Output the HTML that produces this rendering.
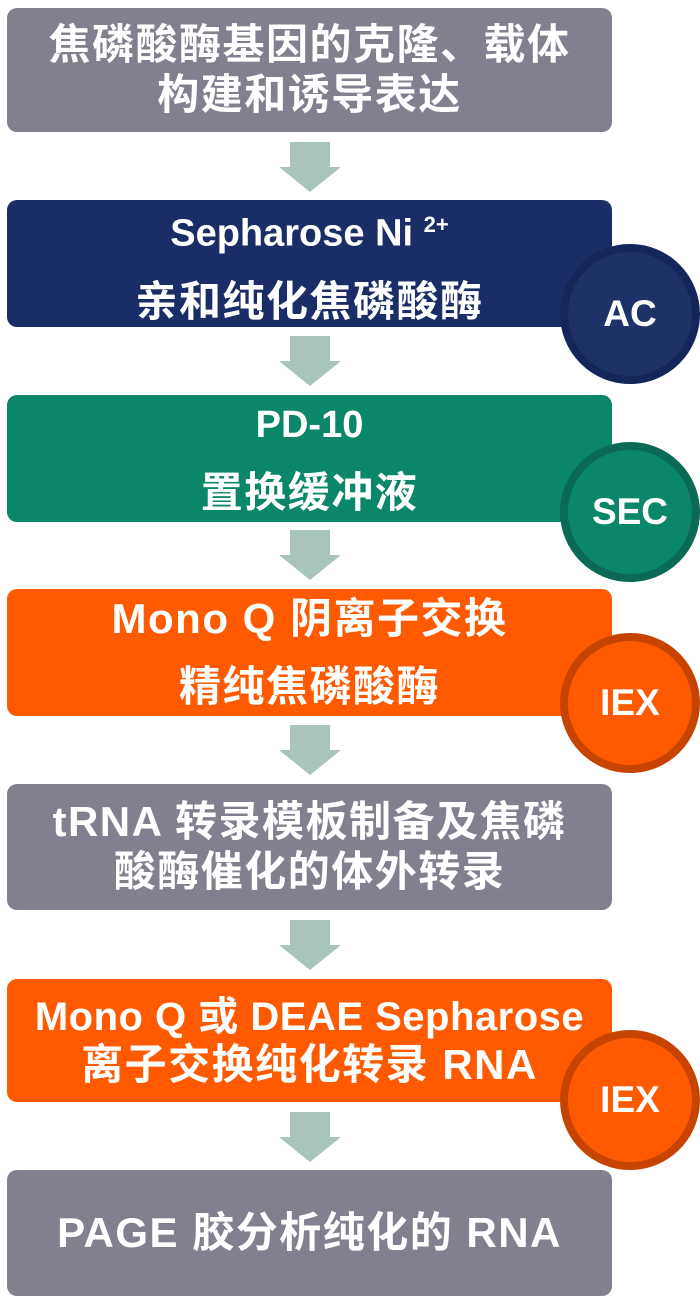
<!DOCTYPE html>
<html><head><meta charset="utf-8"><style>
body{margin:0;width:700px;height:1299px;background:#fff;position:relative;overflow:hidden;font-family:"Liberation Sans","Noto Sans CJK SC",sans-serif;font-weight:bold;color:#fff}
.b{position:absolute;left:7px;width:605px;border-radius:10px;display:flex;flex-direction:column;justify-content:center;align-items:center;text-align:center;font-size:42px;line-height:50px;white-space:nowrap;letter-spacing:1.5px}
.b div{line-height:48px}
.g{background:#82808f}.n{background:#1b2d66}.t{background:#0a8769}.o{background:#ff5a00}
.c{position:absolute;left:560px;width:124px;height:124px;border-radius:50%;border:8px solid;display:flex;align-items:center;justify-content:center;font-size:37px}
.a{position:absolute;left:279px;width:62px;height:50px}
</style></head><body>
<div class="b g" style="top:8px;height:124px">焦磷酸酶基因的克隆、载体<br>构建和诱导表达</div>
<svg class="a" style="top:142px" viewBox="0 0 62 50"><path d="M11 0H51V25H62L31 50L0 25H11Z" fill="#a9c4bb"/></svg>
<div class="b n" style="top:200px;height:127px"><div style="font-size:38px;letter-spacing:0">Sepharose Ni <sup style="font-size:22px">2+</sup></div><div style="margin-top:20px">亲和纯化焦磷酸酶</div></div>
<div class="c" style="top:244px;background:#1f3268;border-color:#15265a">AC</div>
<svg class="a" style="top:336px" viewBox="0 0 62 50"><path d="M11 0H51V25H62L31 50L0 25H11Z" fill="#a9c4bb"/></svg>
<div class="b t" style="top:395px;height:127px"><div style="font-size:38px;letter-spacing:0">PD-10</div><div style="margin-top:20px">置换缓冲液</div></div>
<div class="c" style="top:442px;background:#0a8769;border-color:#0b6a55">SEC</div>
<svg class="a" style="top:530px" viewBox="0 0 62 50"><path d="M11 0H51V25H62L31 50L0 25H11Z" fill="#a9c4bb"/></svg>
<div class="b o" style="top:589px;height:127px"><div>Mono Q 阴离子交换</div><div style="margin-top:20px">精纯焦磷酸酶</div></div>
<div class="c" style="top:633px;background:#ff5a00;border-color:#c74400">IEX</div>
<svg class="a" style="top:725px" viewBox="0 0 62 50"><path d="M11 0H51V25H62L31 50L0 25H11Z" fill="#a9c4bb"/></svg>
<div class="b g" style="top:784px;height:126px">tRNA 转录模板制备及焦磷<br>酸酶催化的体外转录</div>
<svg class="a" style="top:920px" viewBox="0 0 62 50"><path d="M11 0H51V25H62L31 50L0 25H11Z" fill="#a9c4bb"/></svg>
<div class="b o" style="top:979px;height:123px"><div style="font-size:40px;letter-spacing:0.5px">Mono Q 或 DEAE Sepharose</div><div>离子交换纯化转录 RNA</div></div>
<div class="c" style="top:1030px;background:#ff5a00;border-color:#c74400">IEX</div>
<svg class="a" style="top:1112px" viewBox="0 0 62 50"><path d="M11 0H51V25H62L31 50L0 25H11Z" fill="#a9c4bb"/></svg>
<div class="b g" style="top:1170px;height:126px">PAGE 胶分析纯化的 RNA</div>
</body></html>
